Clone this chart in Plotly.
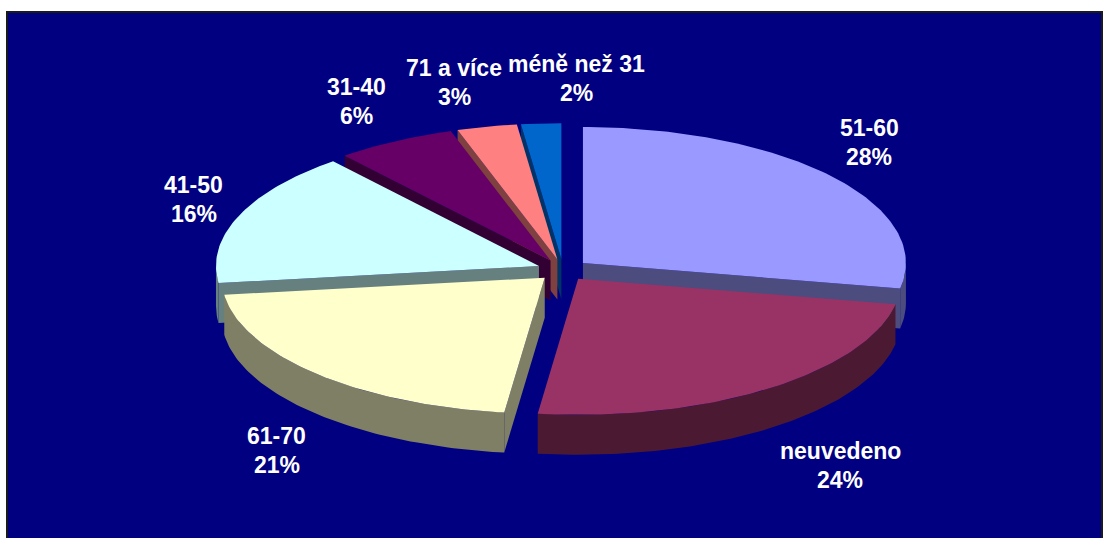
import numpy as np
import plotly.graph_objects as go

# ---- data ----
categories = ["51-60", "neuvedeno", "61-70", "41-50", "31-40", "71 a více", "méně než 31"]
shares = [28, 24, 21, 16, 6, 3, 2]
colors = ["#9999FF", "#993366", "#FFFFCC", "#CCFFFF", "#660066", "#FF8080", "#0066CC"]

# ---- geometry / style (pixel space of the 1103x538 page) ----
W, H = 1103, 538
cx, cy = 563, 270      # centre of the top ellipse
a, b = 323, 136        # ellipse semi-axes
depth = 40             # thickness of the 3D pie
explode = 0.08         # explosion, fraction of radius
label_push = 45        # label distance beyond the rim (px)
label_nudge_x = {"neuvedeno": 46, "61-70": -8, "41-50": -3, "51-60": 3,
                 "31-40": -17, "71 a více": -23, "méně než 31": 38}
label_nudge_y = {"51-60": -5, "61-70": 5}


def shade(hexcol, f=0.5):
    h = hexcol.lstrip("#")
    r, g, bb = (int(h[i:i + 2], 16) for i in (0, 2, 4))
    return "#%02x%02x%02x" % (int(r * f), int(g * f), int(bb * f))


def P(u, v, down=0.0):
    return cx + a * u, cy - b * v + down


total = float(sum(shares))
bounds = np.concatenate([[0], np.cumsum(shares)]) / total * 2 * np.pi

slices = []
for i, (cat, val, col) in enumerate(zip(categories, shares, colors)):
    t1, t2 = bounds[i], bounds[i + 1]
    tm = 0.5 * (t1 + t2)
    eu, ev = explode * np.sin(tm), explode * np.cos(tm)
    slices.append(dict(cat=cat, val=val, col=col, t1=t1, t2=t2, tm=tm, eu=eu, ev=ev))

fig = go.Figure()


def add_poly(xs, ys, col):
    fig.add_trace(go.Scatter(x=xs, y=ys, mode="lines", fill="toself",
                             fillcolor=col, line=dict(width=0, color=col),
                             hoverinfo="skip", showlegend=False))


# draw back-to-front
for s in sorted(slices, key=lambda s: -np.cos(s["tm"])):
    t1, t2, eu, ev = s["t1"], s["t2"], s["eu"], s["ev"]
    dark = shade(s["col"], 0.5)
    n = max(8, int((t2 - t1) / (2 * np.pi) * 360))
    th = np.linspace(t1, t2, n)
    ax_, ay_ = P(eu, ev)
    arc = [P(eu + np.sin(t), ev + np.cos(t)) for t in th]

    # cut face at t1
    if np.sin(t1) < 0:
        r1 = P(eu + np.sin(t1), ev + np.cos(t1))
        add_poly([ax_, r1[0], r1[0], ax_], [ay_, r1[1], r1[1] + depth, ay_ + depth], dark)
    # cut face at t2
    if np.sin(t2) > 0:
        r2 = P(eu + np.sin(t2), ev + np.cos(t2))
        add_poly([ax_, r2[0], r2[0], ax_], [ay_, r2[1], r2[1] + depth, ay_ + depth], dark)
    # curved outer wall (front part)
    lo, hi = max(t1, np.pi / 2), min(t2, 3 * np.pi / 2)
    if hi > lo:
        tw = np.linspace(lo, hi, max(8, int((hi - lo) / (2 * np.pi) * 360)))
        top = [P(eu + np.sin(t), ev + np.cos(t)) for t in tw]
        xs = [p[0] for p in top] + [p[0] for p in top[::-1]]
        ys = [p[1] for p in top] + [p[1] + depth for p in top[::-1]]
        add_poly(xs, ys, dark)
    # top face
    xs = [ax_] + [p[0] for p in arc] + [ax_]
    ys = [ay_] + [p[1] for p in arc] + [ay_]
    add_poly(xs, ys, s["col"])

# labels
font = dict(family="Liberation Sans, Arial, sans-serif", size=23, color="white", weight="bold")
for s in slices:
    tm = s["tm"]
    rx, ry = P(s["eu"] + np.sin(tm), s["ev"] + np.cos(tm))
    lx = rx + label_push * np.sin(tm) + label_nudge_x.get(s["cat"], 0)
    ly = (ry - label_push * np.cos(tm) + (depth if np.cos(tm) < 0 else 0)
          + label_nudge_y.get(s["cat"], 0))
    pct = f"{round(s['val'] / total * 100)}%"
    fig.add_annotation(x=lx, y=ly - 14.5, text=s["cat"], showarrow=False, font=font,
                       xanchor="center", yanchor="middle")
    fig.add_annotation(x=lx, y=ly + 14.5, text=pct, showarrow=False, font=font,
                       xanchor="center", yanchor="middle")

fig.add_shape(type="rect", x0=7, x1=1102, y0=12, y1=540, layer="below",
              fillcolor="#000080", line=dict(color="#1a1a1a", width=2))

fig.update_layout(
    width=W, height=H,
    margin=dict(l=0, r=0, t=0, b=0),
    paper_bgcolor="white", plot_bgcolor="white",
    xaxis=dict(range=[0, W], visible=False, fixedrange=True),
    yaxis=dict(range=[H, 0], visible=False, fixedrange=True),
    showlegend=False,
)

fig.write_html("out.html", config={"displayModeBar": False},
               post_script="document.body.style.margin='0';")
